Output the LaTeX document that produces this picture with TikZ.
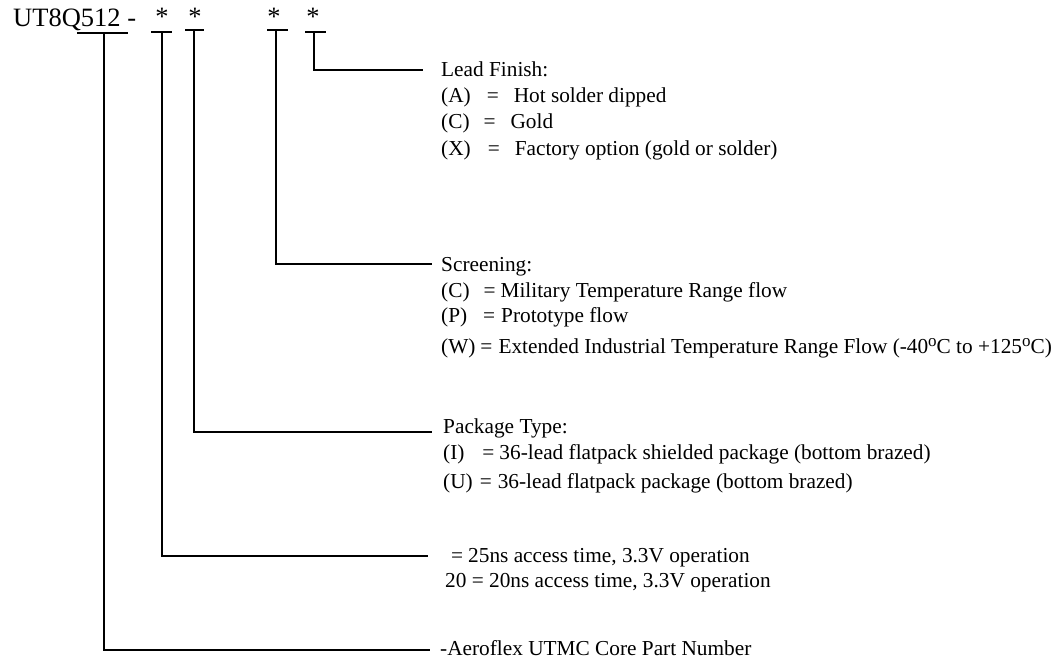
\documentclass[tikz,border=0pt]{standalone}
\usepackage{fontspec}
\setmainfont{Liberation Serif}
\newcommand{\degsym}{\raisebox{7pt}{\fontsize{17}{17}\selectfont o}}
\begin{document}
\begin{tikzpicture}[x=1pt,y=-1pt,
  lab/.style={anchor=base west,inner sep=0pt,font=\fontsize{21.3}{24}\selectfont},
  title/.style={anchor=base west,inner sep=0pt,font=\fontsize{26.5}{30}\selectfont},
  star/.style={anchor=base,inner sep=0pt,font=\fontsize{26.5}{30}\selectfont},
  tickbar/.style={line width=2pt,draw=black},
  leader/.style={line width=2pt,draw=black}]
\useasboundingbox (0,0) rectangle (1056,660);
\node[title] (pn) at (13,27) {UT8Q512 -};
\node[star] (s1) at (162,26) {*};
\node[star] (s2) at (195,26) {*};
\node[star] (s3) at (274,26) {*};
\node[star] (s4) at (313,26) {*};
% part number bars
\coordinate (b0l) at (77,33.5); \coordinate (b0r) at (128,33.5); \coordinate (t0) at (104,33.5);
\coordinate (b1l) at (151,32); \coordinate (b1r) at (172,32); \coordinate (t1) at (162,32);
\coordinate (b2l) at (185,29.7); \coordinate (b2r) at (204,29.7); \coordinate (t2) at (194,29.7);
\coordinate (b3l) at (267,29.7); \coordinate (b3r) at (288,29.7); \coordinate (t3) at (276,29.7);
\coordinate (b4l) at (305,32); \coordinate (b4r) at (326,32); \coordinate (t4) at (314,32);
\foreach \n in {0,...,4} \draw[tickbar] (b\n l) -- (b\n r);
% labels
\node[lab] (lf) at (441,77) {Lead Finish:};
\node[lab] (lfa) at (441,103) {(A)\hspace{16pt}=\hspace{15pt}Hot solder dipped};
\node[lab] (lfc) at (441,129) {(C)\hspace{14pt}=\hspace{15pt}Gold};
\node[lab] (lfx) at (441,156) {(X)\hspace{17pt}=\hspace{15pt}Factory option (gold or solder)};
\node[lab] (sc) at (441,271) {Screening:};
\node[lab] (scc) at (441,297) {(C)\hspace{14pt}=\hspace{5pt}Military Temperature Range flow};
\node[lab] (scp) at (441,322) {(P)\hspace{16pt}=\hspace{6pt}Prototype flow};
\node[lab] (scw) at (441,353) {(W)\hspace{5pt}=\hspace{6pt}Extended Industrial Temperature Range Flow (-40\degsym C to +125\degsym C)};
\node[lab] (pt) at (443,433) {Package Type:};
\node[lab] (pti) at (443,459) {(I)\hspace{18pt}=\hspace{5pt}36-lead flatpack shielded package (bottom brazed)};
\node[lab] (ptu) at (443,488) {(U)\hspace{7pt}=\hspace{6pt}36-lead flatpack package (bottom brazed)};
\node[lab] (sp) at (451,562) {=\hspace{5pt}25ns access time, 3.3V operation};
\node[lab] (spb) at (445,587) {20 = 20ns access time, 3.3V operation};
\node[lab] (ae) at (440,655) {-Aeroflex UTMC Core Part Number};
% leaders
\draw[leader] (t4) |- ([xshift=-18pt,yshift=7pt]lf.base west);
\draw[leader] (t3) |- ([xshift=-9pt,yshift=7pt]sc.base west);
\draw[leader] (t2) |- ([xshift=-11pt,yshift=1pt]pt.base west);
\draw[leader] (t1) |- ([xshift=-23pt,yshift=6pt]sp.base west);
\draw[leader] (t0) |- ([xshift=-10pt,yshift=5pt]ae.base west);
\end{tikzpicture}
\end{document}
